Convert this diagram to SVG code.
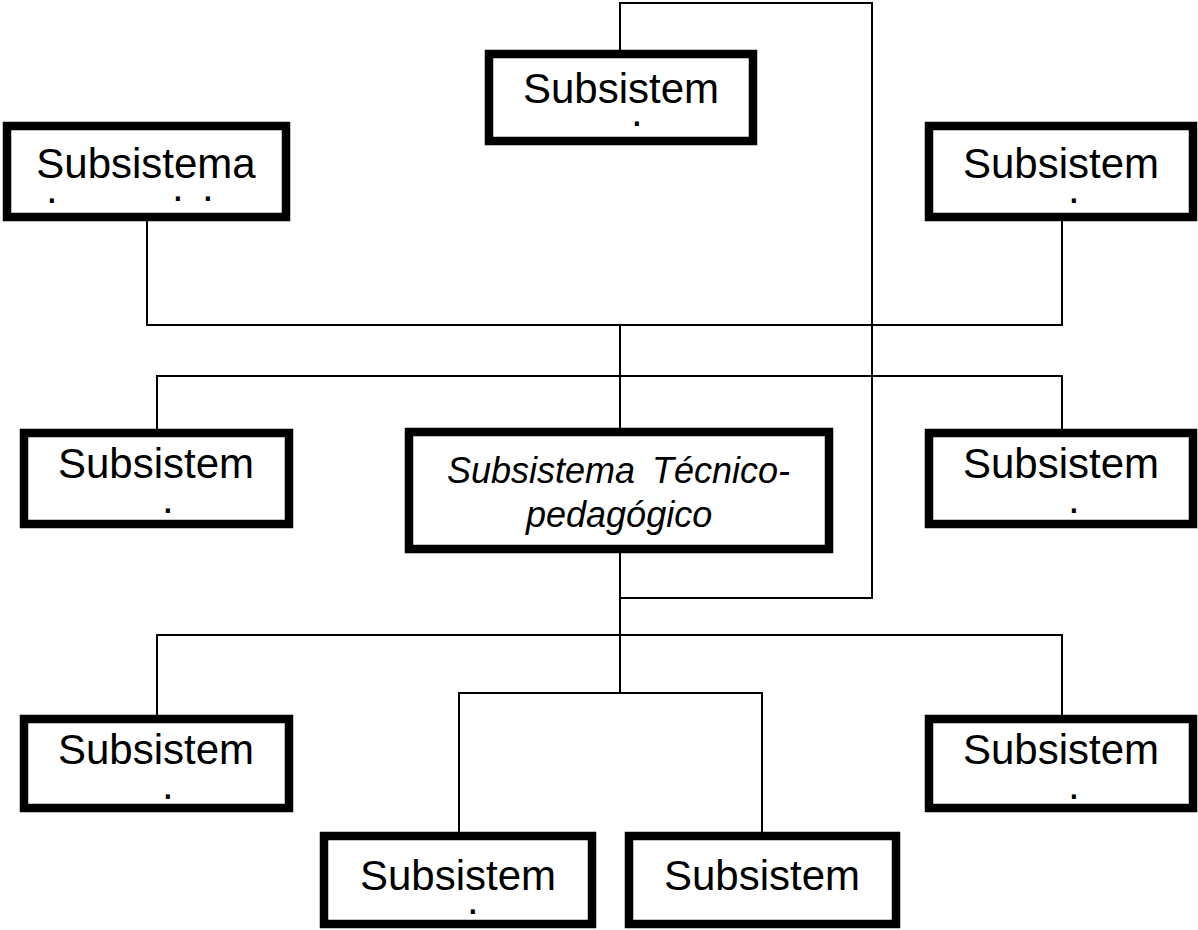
<svg xmlns="http://www.w3.org/2000/svg" width="1198" height="930" viewBox="0 0 1198 930">
<style>
.box{fill:#fff;stroke:#000;stroke-width:8.5}
.lbl{font-family:"Liberation Sans",Arial,sans-serif;font-size:42px;fill:#000;text-anchor:middle}
.dot{font-family:"Liberation Sans",Arial,sans-serif;font-size:42px;fill:#000}
.it{font-family:"Liberation Sans",Arial,sans-serif;font-size:36px;font-style:italic;fill:#000}
.con{fill:none;stroke:#000;stroke-width:2}
</style>
<rect width="1198" height="930" fill="#fff"/>
<g id="connectors">
<path class="con" d="M620,50 V3 H872 V598 H620"/>
<path class="con" d="M147,221 V325 H1062 V221"/>
<path class="con" d="M620,325 V428"/>
<path class="con" d="M157,429 V376 H1062 V429"/>
<path class="con" d="M620,553 V693"/>
<path class="con" d="M157,715 V635 H1062 V715"/>
<path class="con" d="M459,832 V693 H762 V832"/>
</g>
<g id="n1"><rect class="box" x="489" y="54" width="264" height="87"/><text class="lbl" x="621" y="103">Subsistem</text><text class="dot" x="631" y="126">.</text></g>
<g id="n2"><rect class="box" x="7" y="126" width="279" height="91"/><text class="lbl" x="146" y="178">Subsistema</text><text class="dot" x="46" y="203">.</text><text class="dot" x="172" y="201">.</text><text class="dot" x="202" y="201">.</text></g>
<g id="n3"><rect class="box" x="929" y="126" width="264" height="91"/><text class="lbl" x="1061" y="178">Subsistem</text><text class="dot" x="1068" y="203">.</text></g>
<g id="n4"><rect class="box" x="24" y="433" width="265" height="91"/><text class="lbl" x="156" y="478">Subsistem</text><text class="dot" x="162" y="513">.</text></g>
<g id="n5"><rect class="box" x="409" y="432" width="420" height="117"/><text class="it"><tspan x="447" y="483">Subsistema</tspan><tspan x="652" y="483">Técnico-</tspan><tspan x="526" y="527">pedagógico</tspan></text></g>
<g id="n6"><rect class="box" x="929" y="433" width="264" height="91"/><text class="lbl" x="1061" y="478">Subsistem</text><text class="dot" x="1068" y="513">.</text></g>
<g id="n7"><rect class="box" x="24" y="719" width="265" height="89"/><text class="lbl" x="156" y="764">Subsistem</text><text class="dot" x="162" y="799">.</text></g>
<g id="n8"><rect class="box" x="929" y="719" width="264" height="89"/><text class="lbl" x="1061" y="764">Subsistem</text><text class="dot" x="1068" y="799">.</text></g>
<g id="n9"><rect class="box" x="324" y="836" width="268" height="88"/><text class="lbl" x="458" y="890">Subsistem</text><text class="dot" x="467" y="914">.</text></g>
<g id="n10"><rect class="box" x="629" y="836" width="267" height="88"/><text class="lbl" x="762" y="890">Subsistem</text></g>
</svg>
